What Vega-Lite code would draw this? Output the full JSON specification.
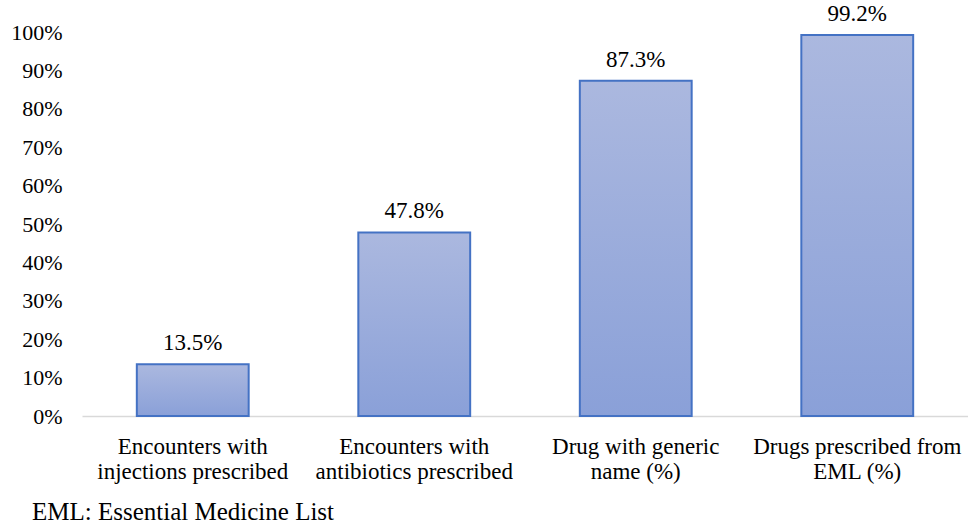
{
  "$schema": "https://vega.github.io/schema/vega-lite/v6.json",
  "width": 886,
  "height": 384,
  "autosize": {"type": "none"},
  "padding": {"left": 82, "top": 32, "right": 0, "bottom": 110},
  "background": "white",
  "config": {
    "view": {"stroke": null},
    "font": "'Liberation Serif', 'Times New Roman', serif"
  },
  "title": {
    "text": "EML: Essential Medicine List",
    "orient": "bottom",
    "anchor": "start",
    "frame": "group",
    "dx": -50,
    "offset": 17,
    "font": "'Liberation Serif', 'Times New Roman', serif",
    "fontSize": 25,
    "fontWeight": "normal",
    "color": "#000000"
  },
  "data": {
    "values": [
      {"indicator": "Encounters with|injections prescribed", "value": 0.135},
      {"indicator": "Encounters with|antibiotics prescribed", "value": 0.478},
      {"indicator": "Drug with generic|name (%)", "value": 0.873},
      {"indicator": "Drugs prescribed from|EML (%)", "value": 0.992}
    ]
  },
  "encoding": {
    "x": {
      "field": "indicator",
      "type": "nominal",
      "sort": null,
      "scale": {"paddingInner": 0.495, "paddingOuter": 0.2475},
      "axis": {
        "title": null,
        "labelAngle": 0,
        "labelExpr": "split(datum.label, '|')",
        "labelFont": "'Liberation Serif', 'Times New Roman', serif",
        "labelFontSize": 23,
        "labelColor": "#000000",
        "labelLineHeight": 25,
        "labelPadding": 19,
        "labelLimit": 0,
        "labelOverlap": false,
        "labelBound": false,
        "labelFlush": false,
        "ticks": false,
        "domainColor": "#D9D9D9",
        "domainWidth": 1.5
      }
    },
    "y": {
      "field": "value",
      "type": "quantitative",
      "scale": {"domain": [0, 1], "nice": false},
      "axis": {
        "title": null,
        "values": [0, 0.1, 0.2, 0.3, 0.4, 0.5, 0.6, 0.7, 0.8, 0.9, 1.0],
        "format": ".0%",
        "grid": false,
        "domain": false,
        "ticks": false,
        "labelFont": "'Liberation Serif', 'Times New Roman', serif",
        "labelFontSize": 22,
        "labelColor": "#000000",
        "labelPadding": 20
      }
    }
  },
  "layer": [
    {
      "mark": {
        "type": "bar",
        "stroke": "#4472C4",
        "strokeWidth": 2,
        "color": {
          "gradient": "linear",
          "x1": 0, "y1": 0, "x2": 0, "y2": 1,
          "stops": [
            {"offset": 0, "color": "#ABB8DF"},
            {"offset": 1, "color": "#8AA0D8"}
          ]
        }
      }
    },
    {
      "mark": {
        "type": "text",
        "baseline": "alphabetic",
        "dy": -14,
        "font": "'Liberation Serif', 'Times New Roman', serif",
        "fontSize": 23,
        "color": "#000000"
      },
      "encoding": {
        "text": {"field": "value", "type": "quantitative", "format": ".1%"}
      }
    }
  ]
}
